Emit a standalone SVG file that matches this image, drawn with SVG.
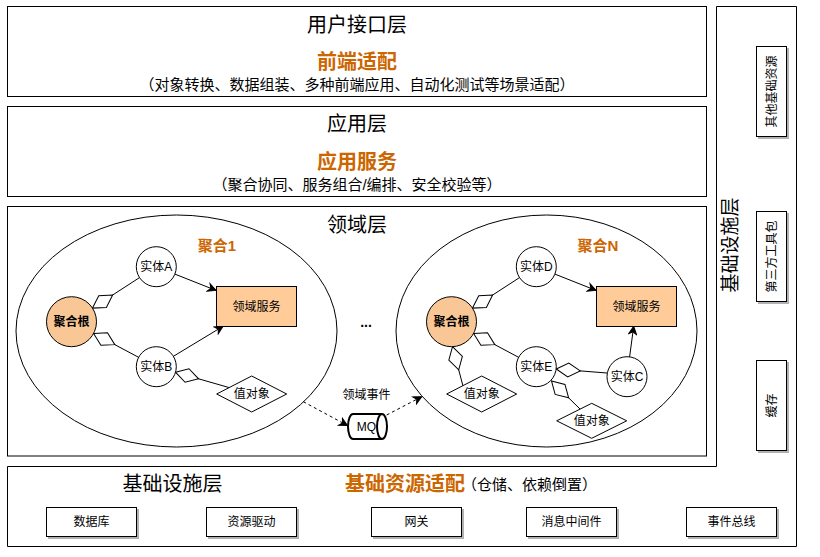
<svg xmlns="http://www.w3.org/2000/svg" width="820" height="557" viewBox="0 0 820 557">
<style>
text{font-family:"Liberation Sans","Noto Sans CJK SC",sans-serif;fill:#000;text-anchor:middle;dominant-baseline:central}
.frame{fill:#fff;stroke:#000;stroke-width:1}
.h{font-size:20px}
.o{font-size:20px;font-weight:bold;fill:#CC6600}
.s{font-size:15px}
.n{font-size:12px}
.b{font-weight:bold}
.agg{font-size:15px;font-weight:bold;fill:#CC6600}
.line{fill:none;stroke:#000;stroke-width:1}
.dash{fill:none;stroke:#000;stroke-width:1;stroke-dasharray:3 3}
.box{fill:#fff;stroke:#000;stroke-width:1;filter:url(#sh)}
.circ{fill:#fff;stroke:#000;stroke-width:1}
.root{fill:#F9C796;stroke:#000;stroke-width:1}
.svc{fill:#FFCC99;stroke:#000;stroke-width:1}
.vo{fill:#fff;stroke:#000;stroke-width:1}
.ell{fill:#fff;stroke:#000;stroke-width:1}
</style>
<defs>
<filter id="sh" x="-10%" y="-10%" width="130%" height="140%">
<feDropShadow dx="2" dy="2" stdDeviation="0.6" flood-color="#000" flood-opacity="0.3"/>
</filter>
<marker id="arr" viewBox="-9 -5 10 10" refX="0" refY="0" markerWidth="10" markerHeight="10" markerUnits="userSpaceOnUse" orient="auto">
<path d="M0,0 L-8,-4 L-5.5,0 L-8,4 Z" fill="#000" stroke="#000" stroke-width="1"/>
</marker>
<marker id="dia" viewBox="-1 -8 26 16" refX="0" refY="0" markerWidth="26" markerHeight="16" markerUnits="userSpaceOnUse" orient="auto">
<path d="M0,0 L12,-7 L24,0 L12,7 Z" fill="#fff" stroke="#000" stroke-width="1"/>
</marker>
</defs>

<g id="ui-layer">
<rect class="frame" x="7.5" y="6.5" width="699" height="90"/>
<text class="h" x="357" y="25">用户接口层</text>
<text class="o" x="357" y="61.5">前端适配</text>
<text class="s" x="357" y="84">（对象转换、数据组装、多种前端应用、自动化测试等场景适配）</text>
</g>

<g id="app-layer">
<rect class="frame" x="7.5" y="106.5" width="699" height="90"/>
<text class="h" x="357" y="124">应用层</text>
<text class="o" x="357" y="162">应用服务</text>
<text class="s" x="357" y="184">（聚合协同、服务组合/编排、安全校验等）</text>
</g>

<g id="domain-layer">
<rect class="frame" x="7.5" y="206.5" width="699" height="249.5"/>
<text class="h" x="357" y="225">领域层</text>
<text x="366" y="322" style="font-size:14px;font-weight:bold">...</text>
<text class="n" x="366.5" y="394.5">领域事件</text>
</g>

<g id="infra-layer">
<path class="frame" d="M7.5,466.5 L716.5,466.5 L716.5,6.5 L796.5,6.5 L796.5,546.5 L7.5,546.5 Z"/>
<text class="h" x="172.5" y="484">基础设施层</text>
<text class="o" x="345" y="484" style="text-anchor:start">基础资源适配</text>
<text class="s" x="462" y="484" style="text-anchor:start">（仓储、依赖倒置）</text>
<text style="font-size:19px" x="730" y="245" transform="rotate(-90 730 245)">基础设施层</text>
</g>

<g id="aggregate-1">
<ellipse class="ell" cx="176.5" cy="331" rx="160.5" ry="116"/>
<text class="agg" x="217" y="245">聚合1</text>
</g>
<g id="aggregate-n">
<ellipse class="ell" cx="546.5" cy="331" rx="150.5" ry="116"/>
<text class="agg" x="598" y="245">聚合N</text>
</g>

<g id="connectors">
<path class="line" marker-start="url(#dia)" d="M92.5,308.1 L139.5,277.6"/>
<path class="line" marker-start="url(#dia)" d="M93.6,333.4 L138.6,357.3"/>
<path class="line" marker-end="url(#arr)" d="M174.9,274.1 L216,290.4"/>
<path class="line" marker-end="url(#arr)" d="M173.4,356.3 L223,326.3"/>
<path class="line" marker-start="url(#dia)" d="M175.5,372.2 L229.2,387.6"/>

<path class="line" marker-start="url(#dia)" d="M472.5,308.1 L519.5,277.6"/>
<path class="line" marker-start="url(#dia)" d="M473.6,333.4 L518.6,357.3"/>
<path class="line" marker-end="url(#arr)" d="M554.9,274.1 L596,290.4"/>
<path class="line" marker-start="url(#dia)" d="M452.5,346.7 L463,386"/>
<path class="line" marker-start="url(#dia)" d="M556.3,369 L607,373"/>
<path class="line" marker-start="url(#dia)" d="M551.5,381 L580,409"/>
<path class="line" marker-end="url(#arr)" d="M629.6,356.9 L633.7,326.3"/>

<path class="dash" marker-end="url(#arr)" d="M303.3,401.7 L347.5,425.5"/>
<path class="dash" marker-end="url(#arr)" d="M386.7,415 L421.7,396.7"/>
</g>

<g id="root-1">
<circle class="root" cx="71.5" cy="321.7" r="25"/>
<text class="n b" x="71.5" y="321.7">聚合根</text>
</g>
<g id="entity-a">
<circle class="circ" cx="156.3" cy="266.7" r="20"/>
<text class="n" x="156.3" y="266.7">实体A</text>
</g>
<g id="entity-b">
<circle class="circ" cx="156.3" cy="366.7" r="20"/>
<text class="n" x="156.3" y="366.7">实体B</text>
</g>
<g id="service-1">
<rect class="svc" x="216.5" y="286.5" width="80" height="40"/>
<text class="n" x="256.5" y="306.5">领域服务</text>
</g>
<g id="value-1">
<polygon class="vo" points="216.7,394 251.7,376 286.7,394 251.7,412"/>
<text class="n" x="251.7" y="394">值对象</text>
</g>

<g id="root-n">
<circle class="root" cx="451.5" cy="321.7" r="25"/>
<text class="n b" x="451.5" y="321.7">聚合根</text>
</g>
<g id="entity-d">
<circle class="circ" cx="536.3" cy="266.7" r="20"/>
<text class="n" x="536.3" y="266.7">实体D</text>
</g>
<g id="entity-e">
<circle class="circ" cx="536.3" cy="366.7" r="20"/>
<text class="n" x="536.3" y="366.7">实体E</text>
</g>
<g id="entity-c">
<circle class="circ" cx="627" cy="376.7" r="20"/>
<text class="n" x="627" y="376.7">实体C</text>
</g>
<g id="service-n">
<rect class="svc" x="596.5" y="286.5" width="80" height="40"/>
<text class="n" x="636.5" y="306.5">领域服务</text>
</g>
<g id="value-n1">
<polygon class="vo" points="446.7,394 481.7,376 516.7,394 481.7,412"/>
<text class="n" x="481.7" y="394">值对象</text>
</g>
<g id="value-n2">
<polygon class="vo" points="556.7,420.8 591.7,403.3 626.7,420.8 591.7,438.3"/>
<text class="n" x="591.7" y="420.8">值对象</text>
</g>

<g id="mq">
<path d="M353,414 L382,414 A5,12.5 0 0 1 382,439 L353,439 A5,12.5 0 0 1 353,414 Z" fill="#fff" stroke="#000" stroke-width="2"/>
<path d="M382,414 A5,12.5 0 0 0 382,439" fill="none" stroke="#000" stroke-width="2"/>
<text class="n" x="366.5" y="427">MQ</text>
</g>

<g id="db"><rect class="box" x="46.5" y="507.5" width="90" height="29"/><text class="n" x="91.5" y="522">数据库</text></g>
<g id="driver"><rect class="box" x="206.5" y="507.5" width="90" height="29"/><text class="n" x="251.5" y="522">资源驱动</text></g>
<g id="gateway"><rect class="box" x="371.5" y="507.5" width="90" height="29"/><text class="n" x="416.5" y="522">网关</text></g>
<g id="mq-middleware"><rect class="box" x="526.5" y="507.5" width="90" height="29"/><text class="n" x="571.5" y="522">消息中间件</text></g>
<g id="event-bus"><rect class="box" x="686.5" y="507.5" width="90" height="29"/><text class="n" x="731.5" y="522">事件总线</text></g>

<g id="other-res"><rect class="box" x="756.5" y="46.5" width="30" height="90"/><text class="n" x="771.5" y="91.5" transform="rotate(-90 771.5 91.5)">其他基础资源</text></g>
<g id="third-party"><rect class="box" x="756.5" y="211.5" width="30" height="90"/><text class="n" x="771.5" y="256.5" transform="rotate(-90 771.5 256.5)">第三方工具包</text></g>
<g id="cache"><rect class="box" x="756.5" y="360.5" width="30" height="90"/><text class="n" x="771.5" y="405.5" transform="rotate(-90 771.5 405.5)">缓存</text></g>
</svg>
